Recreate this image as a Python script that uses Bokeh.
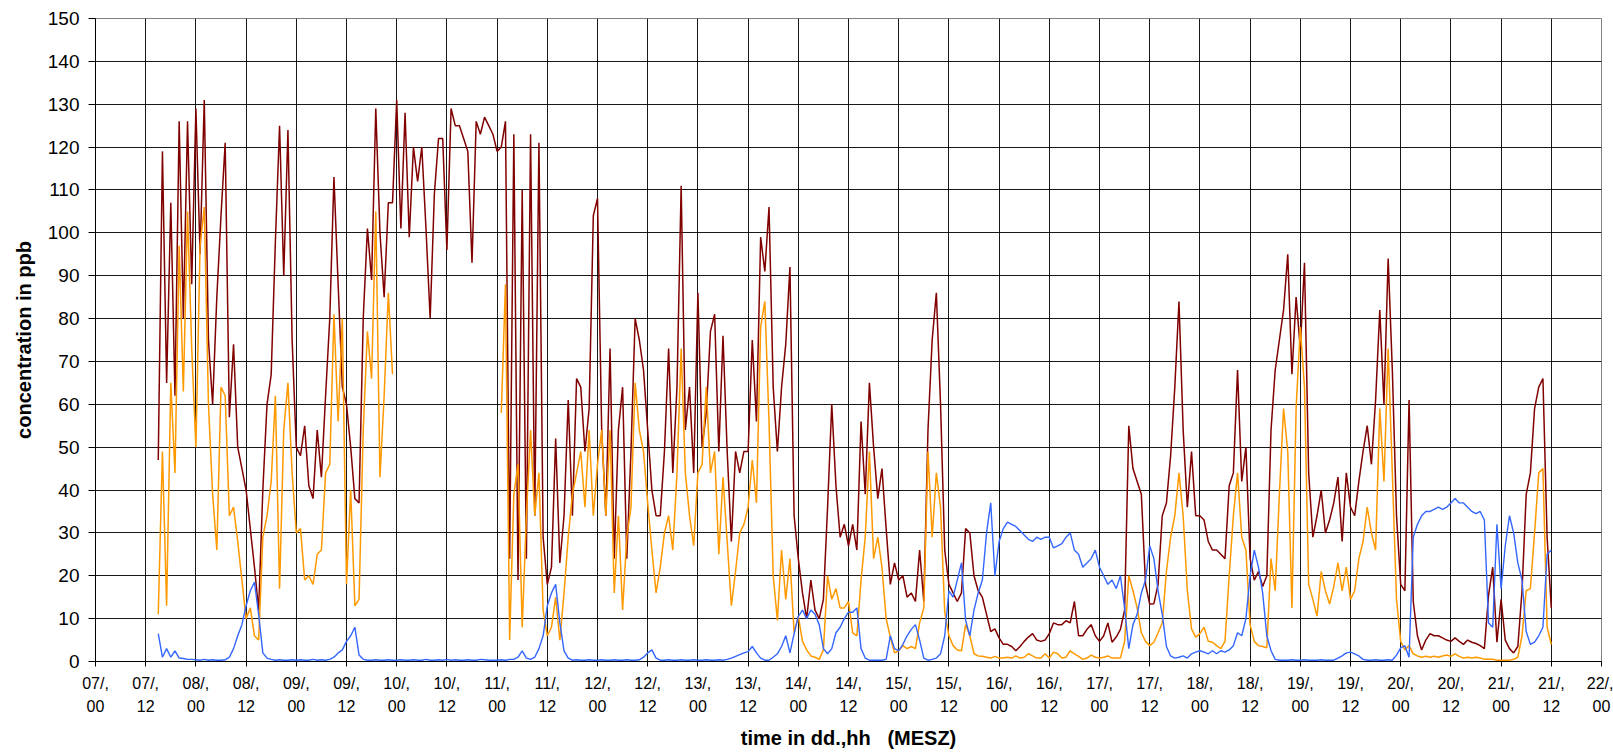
from bokeh.plotting import figure
from bokeh.models import Range1d, FixedTicker, LinearAxis
from bokeh.embed import file_html
from bokeh.resources import INLINE
import numpy as np

nan = float("nan")

# hours counted from 07/00; first sample at 07/15, hourly
start_hour = 15

red_values = (
    [47, 119, 65, 107, 62, 126, 80, 126, 88]
    + [129, 95, 131, 75, 60, 85, 104, 121, 57, 74, 50, 45, 40, 31, 22, 12, 40, 60, 67, 98, 125, 90, 124, 75]
    + [50, 48, 55, 41, 38, 54, 43, 62, 80, 113, 88, 64, 60, 50, 38, 37, 80, 101, 89, 129, 100, 85, 107, 107]
    + [131, 101, 128, 99, 120, 112, 120, 101, 80, 109, 122, 122, 96, 129, 125, 125, 122, 119, 93, 126, 123, 127, 125, 123]
    + [119, 120, 126, 24, 123, 19, 110, 24, 123, 34, 121, 29, 18, 22, 52, 23, 34, 61, 34, 66, 64, 49, 59, 104]
    + [108, 54, 34, 73, 24, 54, 64, 24, 49, 80, 75, 68, 54, 40, 34, 34, 49, 73, 44, 64, 111, 54, 64, 44]
    + [86, 50, 58, 77, 81, 49, 76, 49, 28, 49, 44, 49, 49, 75, 56, 99, 91, 106, 64, 49, 64, 74, 92, 34]
    + [24, 16, 10, 19, 12, 10, 14.5, 36, 60, 41, 29, 32, 27, 32, 26, 56, 39, 65, 50, 38, 45, 31, 18, 23]
    + [19, 20, 15, 16, 14, 26, 14, 54, 75, 86, 60, 26, 18, 16, 14, 16, 31, 30, 20, 16.5, 15, 11, 7, 7.6]
    + [5.5, 4, 4, 3.5, 2.5, 3.5, 4.7, 5.7, 6.5, 5, 4.7, 5, 6.5, 9, 8.6, 8.6, 9.5, 9, 14, 6, 6, 7.5, 8.6, 6]
    + [4.7, 6, 9, 4.5, 5.7, 7.5, 12, 55, 45, 42, 39, 18, 13.4, 13.5, 18, 34, 37, 48, 64, 84, 54, 36, 49, 34]
    + [34, 33, 28, 26, 26, 25, 24, 41, 44, 68, 42, 50, 24, 19, 21, 17.5, 20, 54, 68, 75, 82, 95, 67, 85]
    + [73, 93, 44, 29, 34, 40, 30, 33, 37, 43, 28, 44, 36, 34, 42, 49, 55, 46, 61, 82, 60, 94, 68, 34]
    + [18, 16.5, 61, 14, 6, 2.7, 5, 6.5, 6, 6, 5.5, 5, 4.7, 5.5, 4.7, 4, 5, 4.5, 4.2, 3.7, 3, 15.5, 22, 4.5]
    + [14.5, 5, 3, 2, 3.5, 16.5, 39, 44, 59, 64, 66, 29, 12.5]
)

orange_values = (
    [11, 49, 13, 65, 44, 97, 63, 105, 73]
    + [50, 97, 106, 60, 39, 26, 64, 62, 34, 36, 28, 19, 10, 12.5, 6, 5, 29, 34, 42, 62, 17, 54, 65, 44]
    + [30, 31, 19, 20, 18, 25, 26, 44, 46, 81, 56, 80, 18, 40, 13, 14.5, 54, 77, 66, 105, 43, 62, 86, 67]
    + [nan] * 25
    + [58, 88, 5, 39, 46, 8, 34, 54, 34, 44, 12, 6, 8, 15, 5, 16, 29, 39, 44, 49, 36, 54, 34]
    + [46, 54, 34, 54, 16, 34, 12, 29, 36, 65, 54, 49, 37, 26, 16, 22, 30, 34, 26, 44, 73, 44, 34, 27]
    + [44, 46, 64, 44, 49, 25, 43, 28, 13, 21, 30, 32, 36, 47, 37, 78, 84, 56, 20, 9.6, 26, 14.5, 24, 6.7]
    + [10.6, 4.7, 2.7, 1.3, 1, 0.5, 2.7, 20, 14.5, 17, 12.5, 12.5, 14, 6.7, 6, 19, 29, 49, 24, 29, 22, 10, 5.7, 2]
    + [2.5, 3.7, 3, 3.5, 3, 9, 12.5, 49, 29, 44, 36, 11.6, 6, 3.7, 2.7, 2.5, 8.6, 6, 1.8, 1.3, 1.2, 1, 0.8, 1.2]
    + [0.8, 0.8, 1, 0.8, 1.3, 0.8, 1, 1.8, 1.3, 0.8, 0.8, 1.8, 0.8, 2.2, 1.8, 0.8, 1, 2.5, 1.8, 1.2, 0.5, 0.8, 1.5, 1]
    + [0.8, 1, 1.3, 0.8, 0.8, 0.8, 4.7, 20, 16.5, 12.5, 6.7, 4.7, 3.7, 4.5, 6.7, 9, 21, 29, 34, 44, 34, 16.5, 7.6, 5.7]
    + [6.5, 8, 4.7, 4.5, 3.7, 3, 4.7, 20, 34, 44, 29, 26, 8.6, 4.7, 3.7, 3.5, 3.2, 24, 16.5, 39, 59, 49, 12.5, 59]
    + [78, 64, 18, 14.5, 10.6, 21, 16.5, 13.4, 17.5, 23, 16.5, 22, 14.5, 16.5, 24, 28, 36, 30, 26, 59, 42, 73, 44, 14.5]
    + [4.7, 2.7, 3.7, 1.8, 1.3, 1, 1.2, 1, 1.2, 1, 1.3, 1.5, 1.2, 1.8, 1.2, 0.8, 1, 0.8, 1, 0.8, 0.5, 0.5, 0.5, 0.3]
    + [0.3, 0.3, 0.3, 0.5, 1, 6, 16.5, 17, 30, 44, 45, 8, 4]
)

blue_values = (
    [6.5, 1, 3, 1, 2.5, 0.8, 0.7, 0.5, 0.5]
    + [0.4, 0.3, 0.5, 0.3, 0.4, 0.3, 0.3, 0.4, 1, 3, 6, 8.6, 13, 16.5, 18.5, 11, 2, 0.8, 0.5, 0.3, 0.4, 0.3, 0.3, 0.4]
    + [0.3, 0.4, 0.3, 0.3, 0.5, 0.3, 0.4, 0.3, 0.5, 1, 2, 2.7, 4.7, 6, 8, 1.5, 0.5, 0.3, 0.3, 0.4, 0.3, 0.3, 0.4, 0.3]
    + [0.3, 0.4, 0.3, 0.3, 0.4, 0.3, 0.3, 0.5, 0.3, 0.3, 0.4, 0.3, 0.5, 0.3, 0.4, 0.3, 0.3, 0.4, 0.3, 0.3, 0.5, 0.4, 0.3, 0.3]
    + [0.3, 0.4, 0.3, 0.5, 0.5, 1, 2.5, 0.8, 0.5, 1, 3, 6, 13, 16, 18, 9, 2.5, 0.8, 0.3, 0.4, 0.3, 0.3, 0.4, 0.3]
    + [0.3, 0.4, 0.3, 0.3, 0.4, 0.3, 0.3, 0.4, 0.3, 0.3, 0.4, 1, 2, 2.7, 0.8, 0.3, 0.3, 0.4, 0.3, 0.3, 0.4, 0.3, 0.3, 0.4]
    + [0.3, 0.3, 0.4, 0.3, 0.3, 0.4, 0.3, 0.5, 0.8, 1.2, 1.6, 2, 2.3, 3.5, 2, 0.8, 0.3, 0.3, 1, 1.8, 3.5, 6, 2, 6.5]
    + [10.5, 12, 10, 12, 11, 8.6, 3, 1.8, 3, 6.7, 8, 10, 11.5, 11.5, 12.5, 3, 0.8, 0.3, 0.3, 0.3, 0.3, 0.5, 6, 3]
    + [2.5, 4, 6, 7.5, 8.6, 5, 0.8, 0.3, 0.5, 0.8, 1.8, 6, 16.5, 15, 19, 23, 9.6, 6, 12, 16, 19, 30, 37, 20]
    + [28, 31, 32.5, 32, 31.5, 30.5, 29.5, 28.5, 28, 29, 28.5, 29, 29, 26.5, 27, 27.5, 29, 30, 26, 25, 22, 23, 24, 26]
    + [22, 20, 18, 19, 17, 20, 12.5, 3, 8.6, 11, 16, 19, 27, 24, 16.5, 11, 3.5, 1.3, 0.8, 1, 1.3, 0.8, 1.8, 2.2]
    + [2.5, 2.2, 1.8, 2.5, 1.8, 2.5, 2.2, 2.7, 3.7, 6.7, 6, 10, 20, 26, 22, 16, 6, 2.5, 0.5, 0.3, 0.3, 0.3, 0.4, 0.3]
    + [0.3, 0.4, 0.3, 0.3, 0.3, 0.4, 0.3, 0.3, 0.3, 0.8, 1.3, 2, 2.2, 1.8, 1.3, 0.5, 0.3, 0.3, 0.4, 0.3, 0.3, 0.4, 0.3, 1.5]
    + [3.2, 3.7, 1, 29, 32, 34, 35, 35, 35.5, 36, 35.5, 36, 37, 38, 37, 37, 36, 35, 34.5, 35, 33, 9, 8, 32]
    + [17, 27, 34, 30, 23, 19, 7, 4, 4.5, 6, 8, 25, 26]
)

days = ["07", "08", "09", "10", "11", "12", "13", "14", "15", "16", "17", "18", "19", "20", "21", "22"]
x_ticks = list(range(0, 361, 12))
tick_line1 = {t: days[t // 24] + "/," for t in x_ticks}
tick_line2 = {t: ("00" if t % 24 == 0 else "12") for t in x_ticks}
y_ticks = list(range(0, 151, 10))
x_title = "time in dd.,hh\u00a0\u00a0\u00a0(MESZ)"
y_title = "concentration in ppb"

red = np.array(red_values, dtype=float)
orange = np.array(orange_values, dtype=float)
blue = np.array(blue_values, dtype=float)
hours_r = start_hour + np.arange(len(red))
hours_o = start_hour + np.arange(len(orange))
hours_b = start_hour + np.arange(len(blue))

FONT = "Liberation Sans"

p = figure(width=1613, height=754, output_backend="svg", toolbar_location=None,
           x_range=Range1d(0, 360), y_range=Range1d(0, 150),
           min_border_left=95, min_border_right=12, min_border_top=18, min_border_bottom=93,
           background_fill_color="white", border_fill_color="white")
p.outline_line_color = "#808080"
p.outline_line_width = 1

# grid
p.xgrid.ticker = FixedTicker(ticks=x_ticks)
p.ygrid.ticker = FixedTicker(ticks=y_ticks)
for g in (p.xgrid[0], p.ygrid[0]):
    g.grid_line_color = "#000000"
    g.grid_line_width = 1
    g.grid_line_alpha = 0.9

# y axis
ya = p.yaxis[0]
ya.ticker = FixedTicker(ticks=y_ticks)
ya.major_tick_out = 7
ya.major_tick_in = 0
ya.minor_tick_out = 0
ya.minor_tick_in = 0
ya.major_label_standoff = 9
ya.major_label_text_font = FONT
ya.major_label_text_font_size = "19px"
ya.major_label_text_color = "black"
ya.axis_line_color = "black"
ya.major_tick_line_color = "black"
ya.axis_label = y_title
ya.axis_label_text_font = FONT
ya.axis_label_text_font_size = "20px"
ya.axis_label_text_font_style = "bold"
ya.axis_label_text_color = "black"
ya.axis_label_standoff = 10

# x axis, first label line
xa = p.xaxis[0]
xa.ticker = FixedTicker(ticks=x_ticks)
xa.major_label_overrides = tick_line1
xa.major_tick_out = 5
xa.major_tick_in = 0
xa.minor_tick_out = 0
xa.minor_tick_in = 0
xa.major_label_standoff = 8
xa.major_label_text_font = FONT
xa.major_label_text_font_size = "16px"
xa.major_label_text_color = "black"
xa.axis_line_color = "black"
xa.major_tick_line_color = "black"

# x axis, second label line and title
xb = LinearAxis(ticker=FixedTicker(ticks=x_ticks), major_label_overrides=tick_line2)
xb.axis_line_color = None
xb.major_tick_line_color = None
xb.minor_tick_line_color = None
xb.major_tick_out = 0
xb.major_tick_in = 0
xb.minor_tick_out = 0
xb.minor_tick_in = 0
xb.major_label_standoff = 5
xb.major_label_text_font = FONT
xb.major_label_text_font_size = "16px"
xb.major_label_text_color = "black"
xb.axis_label = x_title
xb.axis_label_text_font = FONT
xb.axis_label_text_font_size = "20px"
xb.axis_label_text_font_style = "bold"
xb.axis_label_text_color = "black"
xb.axis_label_standoff = 12
p.add_layout(xb, "below")

p.line(hours_r, red, line_color="#800000", line_width=1.5)
p.line(hours_o, orange, line_color="#FF9900", line_width=1.5)
p.line(hours_b, blue, line_color="#3366FF", line_width=1.4)

open("out.html", "w").write(file_html(p, INLINE))
